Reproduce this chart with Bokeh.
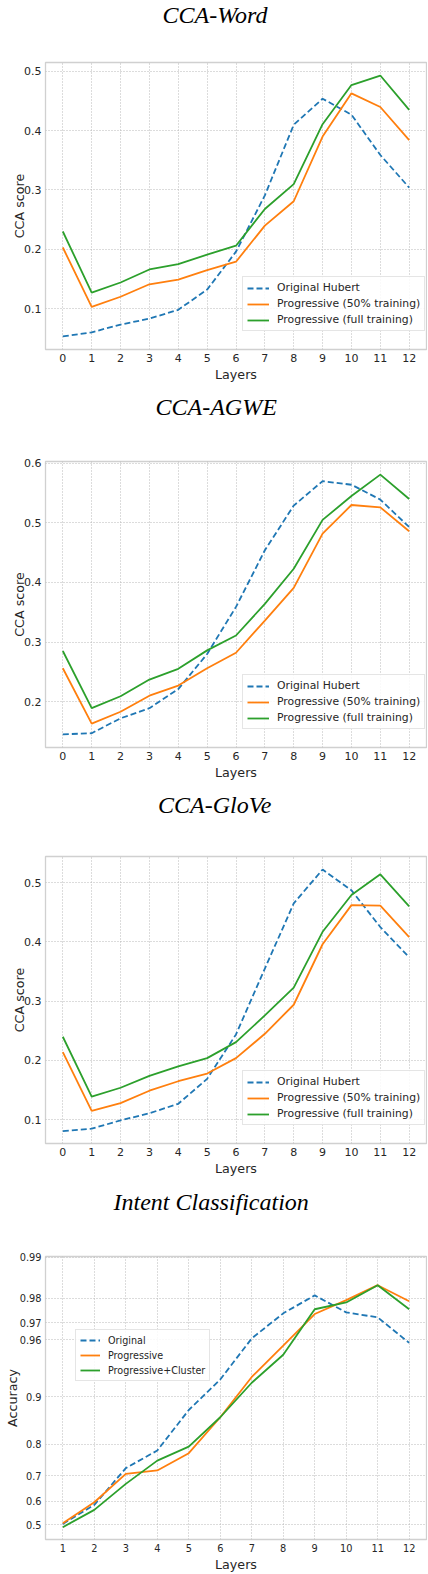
import numpy as np
from bokeh.plotting import figure
from bokeh.models import (Title, FixedTicker, Legend, LegendItem,
                          CustomJSTickFormatter, Range1d)
from bokeh.layouts import column
from bokeh.embed import file_html
from bokeh.resources import INLINE

# ---------------- data ----------------
layers = list(range(13))

word_hubert = [0.053, 0.060, 0.073, 0.083, 0.098, 0.132, 0.196, 0.291, 0.410, 0.454, 0.427, 0.359, 0.304]
word_prog50 = [0.203, 0.103, 0.120, 0.141, 0.149, 0.165, 0.179, 0.240, 0.281, 0.390, 0.463, 0.440, 0.384]
word_full = [0.230, 0.127, 0.144, 0.166, 0.175, 0.191, 0.206, 0.268, 0.310, 0.411, 0.477, 0.493, 0.435]

agwe_hubert = [0.145, 0.147, 0.172, 0.189, 0.221, 0.280, 0.359, 0.454, 0.529, 0.570, 0.564, 0.539, 0.493]
agwe_prog50 = [0.256, 0.163, 0.183, 0.210, 0.227, 0.256, 0.282, 0.336, 0.391, 0.482, 0.530, 0.526, 0.486]
agwe_full = [0.285, 0.189, 0.209, 0.237, 0.255, 0.286, 0.311, 0.364, 0.423, 0.505, 0.545, 0.581, 0.540]

glove_hubert = [0.081, 0.085, 0.099, 0.111, 0.127, 0.169, 0.244, 0.355, 0.465, 0.522, 0.487, 0.425, 0.374]
glove_prog50 = [0.214, 0.115, 0.128, 0.149, 0.165, 0.178, 0.204, 0.245, 0.294, 0.396, 0.462, 0.461, 0.408]
glove_full = [0.240, 0.139, 0.154, 0.174, 0.190, 0.204, 0.231, 0.276, 0.323, 0.417, 0.479, 0.514, 0.460]

intent_layers = list(range(1, 13))
intent_original = [0.504, 0.585, 0.726, 0.782, 0.878, 0.924, 0.961, 0.9743, 0.981, 0.9747, 0.9725, 0.958]
intent_prog = [0.507, 0.596, 0.706, 0.718, 0.774, 0.864, 0.927, 0.956, 0.974, 0.9794, 0.984, 0.979]
intent_cluster = [0.490, 0.564, 0.669, 0.751, 0.793, 0.864, 0.920, 0.949, 0.976, 0.9786, 0.984, 0.976]
intent_ticks = [0.5, 0.6, 0.7, 0.8, 0.9, 0.96, 0.97, 0.98, 0.99]

cca_labels = ["Original Hubert", "Progressive (50% training)", "Progressive (full training)"]
intent_labels = ["Original", "Progressive", "Progressive+Cluster"]

BLUE = "#1f77b4"
ORANGE = "#ff7f0e"
GREEN = "#2ca02c"
TXT = "#262626"
FONT = "DejaVu Sans"
W = 427


def logit(v):
    v = np.asarray(v, dtype=float)
    return np.log(v / (1.0 - v))


def make_fig(title, title_w, height, btop, pad, bbot, bleft, xr, yr, tick_fs, ystand,
             tstand=0, valign="bottom"):
    p = figure(width=W, height=height, output_backend="svg", toolbar_location=None,
               min_border_left=bleft, min_border_right=1,
               min_border_top=btop, min_border_bottom=bbot,
               x_range=xr, y_range=yr)
    T = 29 + tstand
    S = max(0, btop - pad - T - 3)
    p.add_layout(Title(text=" ", text_font_size="1px", standoff=S), "above")
    off = (213 - bleft) - title_w / 2.0
    p.add_layout(Title(text=title, text_font="Liberation Serif", text_font_style="italic",
                       text_font_size="24px", text_color="black", align="left",
                       vertical_align=valign, offset=off, standoff=tstand), "above")
    p.outline_line_color = "#d0d0d0"
    p.outline_line_width = 1.3
    p.background_fill_color = "white"
    p.border_fill_color = "white"
    for ax in (p.xaxis, p.yaxis):
        ax.axis_line_color = None
        ax.major_tick_line_color = None
        ax.minor_tick_line_color = None
        ax.major_tick_out = 0
        ax.major_tick_in = 0
        ax.major_label_text_font = FONT
        ax.major_label_text_font_size = tick_fs
        ax.major_label_text_color = TXT
        ax.axis_label_text_font = FONT
        ax.axis_label_text_font_size = "12.7px"
        ax.axis_label_text_font_style = "normal"
        ax.axis_label_text_color = TXT
    p.xaxis.major_label_standoff = 4
    p.xaxis.axis_label_standoff = 2
    p.yaxis.major_label_standoff = 4
    p.yaxis.axis_label_standoff = ystand
    for g in (p.xgrid, p.ygrid):
        g.grid_line_color = "#b8b8b8"
        g.grid_line_dash = "1 2"
        g.grid_line_width = 1
    p.xaxis.axis_label = "Layers"
    return p


def add_legend(p, rends, labels, loc, fs, gw):
    leg = Legend(items=[LegendItem(label=l, renderers=[r]) for l, r in zip(labels, rends)],
                 location=loc, glyph_width=gw, glyph_height=12, label_height=11,
                 label_standoff=8, spacing=3, padding=4, margin=0,
                 label_text_font=FONT, label_text_font_size=fs, label_text_color=TXT,
                 border_line_color="#cccccc", border_line_width=1,
                 background_fill_color="white", background_fill_alpha=0.85)
    p.add_layout(leg)


def cca_panel(title, tw, height, btop, pad, bbot, ylo, yhi, yticks, a, b, c,
              tstand=0, valign="bottom"):
    p = make_fig(title, tw, height, btop, pad, bbot, 42,
                 Range1d(-0.6, 12.6), Range1d(ylo, yhi), "11px", -6, tstand, valign)
    p.xaxis.ticker = FixedTicker(ticks=layers)
    p.yaxis.ticker = FixedTicker(ticks=yticks)
    p.yaxis.axis_label = "CCA score"
    r1 = p.line(layers, a, line_color=BLUE, line_width=1.8, line_dash="6 3")
    r2 = p.line(layers, b, line_color=ORANGE, line_width=1.8)
    r3 = p.line(layers, c, line_color=GREEN, line_width=1.8)
    add_legend(p, [r1, r2, r3], cca_labels, (197, 18), "10.8px", 22)
    return p


# figure heights: 390 + 395 + 395 + 394 = 1574
p1 = cca_panel("CCA-Word", 108, 390, 62, 4, 41, 0.031, 0.515,
               [0.1, 0.2, 0.3, 0.4, 0.5], word_hubert, word_prog50, word_full,
               tstand=-8, valign="top")
p2 = cca_panel("CCA-AGWE", 122, 395, 71, 0, 38, 0.123, 0.603,
               [0.2, 0.3, 0.4, 0.5, 0.6], agwe_hubert, agwe_prog50, agwe_full)
p3 = cca_panel("CCA-GloVe", 117, 395, 71, 3, 37, 0.060, 0.544,
               [0.1, 0.2, 0.3, 0.4, 0.5], glove_hubert, glove_prog50, glove_full)

# intent classification on a logit scale
p4 = make_fig("Intent Classification", 200, 394, 76, 5, 35, 45,
              Range1d(0.45, 12.55), Range1d(-0.252, 4.612), "9.8px", -3)
p4.xaxis.ticker = FixedTicker(ticks=intent_layers)
p4.yaxis.ticker = FixedTicker(ticks=[float(v) for v in logit(intent_ticks)])
p4.yaxis.formatter = CustomJSTickFormatter(
    code="const v = 1/(1+Math.exp(-tick)); return (Math.round(v*100)/100).toString();")
p4.yaxis.axis_label = "Accuracy"
q1 = p4.line(intent_layers, logit(intent_original), line_color=BLUE, line_width=1.8, line_dash="6 3")
q2 = p4.line(intent_layers, logit(intent_prog), line_color=ORANGE, line_width=1.8)
q3 = p4.line(intent_layers, logit(intent_cluster), line_color=GREEN, line_width=1.8)
add_legend(p4, [q1, q2, q3], intent_labels, (30, 158), "9.6px", 20)

layout = column(p1, p2, p3, p4, spacing=0)
open("out.html", "w").write(file_html(layout, INLINE))
